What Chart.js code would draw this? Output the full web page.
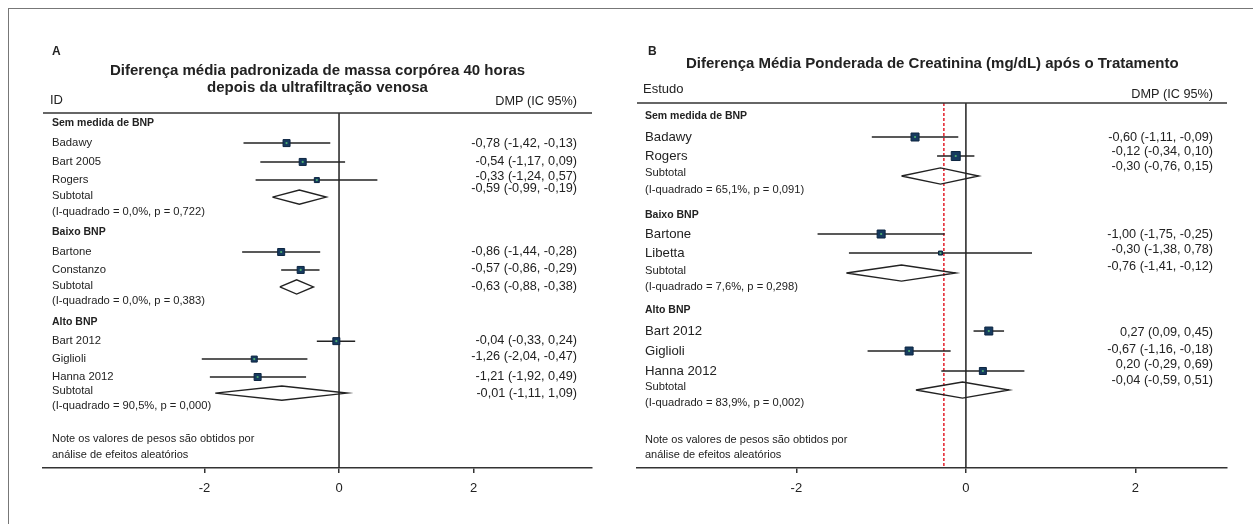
<!DOCTYPE html>
<html>
<head>
<meta charset="utf-8">
<script src="https://cdn.jsdelivr.net/npm/chart.js@4.4.0/dist/chart.umd.min.js"></script>
<style>
html, body { margin:0; padding:0; background:#fff; }
#wrap { position:relative; width:1253px; height:524px; overflow:hidden; }
#frame { position:absolute; left:8px; top:8px; width:1300px; height:600px; border-left:1.5px solid #777; border-top:1.5px solid #777; }
canvas { position:absolute; left:0; top:0; }
</style>
</head>
<body>
<div id="wrap">
  <div id="frame"></div>
  <canvas id="chartA" width="1253" height="524"></canvas>
  <canvas id="chartB" width="1253" height="524"></canvas>
</div>
<script>
var FONT = "'Liberation Sans', Arial, sans-serif";

var tickValues = [-2, 0, 2];
var tickLabels = ['-2', '0', '2'];
var groups = ['Sem medida de BNP', 'Baixo BNP', 'Alto BNP'];
var notes = ['Note os valores de pesos são obtidos por', 'análise de efeitos aleatórios'];

// ---- Painel A: massa corporea ----
var studiesA = ['Badawy', 'Bart 2005', 'Rogers', 'Bartone', 'Constanzo', 'Bart 2012', 'Giglioli', 'Hanna 2012'];
var estA = [-0.78, -0.54, -0.33, -0.86, -0.57, -0.04, -1.26, -1.21];
var loA  = [-1.42, -1.17, -1.24, -1.44, -0.86, -0.33, -2.04, -1.92];
var hiA  = [-0.13, 0.09, 0.57, -0.28, -0.29, 0.24, -0.47, -0.49];
var rowA = [1.61, 2.62, 3.59, 7.44, 8.40, 12.21, 13.17, 14.13];
var weightA = [7, 7, 5, 7, 7, 7, 6, 7];
var ciTextA = ['-0,78 (-1,42, -0,13)', '-0,54 (-1,17, 0,09)', '-0,33 (-1,24, 0,57)', '-0,86 (-1,44, -0,28)',
               '-0,57 (-0,86, -0,29)', '-0,04 (-0,33, 0,24)', '-1,26 (-2,04, -0,47)', '-1,21 (-1,92, 0,49)'];
var ciRowA = [1.62, 2.61, 3.41, 7.42, 8.31, 12.15, 13.05, 14.08];
var groupRowA = [0.54, 6.37, 11.19];
var subEstA = [-0.59, -0.63, -0.85];
var subLoA  = [-0.99, -0.88, -1.84];
var subHiA  = [-0.19, -0.38, 0.12];
var subRowA = [4.50, 9.31, 14.99];
var subLabelRowA = [4.44, 9.26, 14.88];
var subI2A = ['(I-quadrado = 0,0%, p = 0,722)', '(I-quadrado = 0,0%, p = 0,383)', '(I-quadrado = 90,5%, p = 0,000)'];
var subI2RowA = [5.30, 10.06, 15.69];
var subTextA = ['-0,59 (-0,99, -0,19)', '-0,63 (-0,88, -0,38)', '-0,01 (-1,11, 1,09)'];
var subTextRowA = [4.03, 9.30, 15.00];
var noteRowA = [17.45, 18.31];

// ---- Painel B: creatinina ----
var studiesB = ['Badawy', 'Rogers', 'Bartone', 'Libetta', 'Bart 2012', 'Giglioli', 'Hanna 2012'];
var estB = [-0.60, -0.12, -1.00, -0.30, 0.27, -0.67, 0.20];
var loB  = [-1.11, -0.34, -1.75, -1.38, 0.09, -1.16, -0.29];
var hiB  = [-0.09, 0.10, -0.25, 0.78, 0.45, -0.18, 0.69];
var rowB = [1.77, 2.76, 6.82, 7.81, 11.87, 12.91, 13.95];
var weightB = [8, 9, 8, 4, 8, 8, 7];
var ciTextB = ['-0,60 (-1,11, -0,09)', '-0,12 (-0,34, 0,10)', '-1,00 (-1,75, -0,25)', '-0,30 (-1,38, 0,78)',
               '0,27 (0,09, 0,45)', '-0,67 (-1,16, -0,18)', '0,20 (-0,29, 0,69)'];
var ciRowB = [1.77, 2.55, 6.87, 7.65, 11.97, 12.81, 13.59];
var groupRowB = [0.68, 5.83, 10.78];
var subEstB = [-0.30, -0.76, -0.04];
var subLoB  = [-0.76, -1.41, -0.59];
var subHiB  = [0.15, -0.12, 0.51];
var subRowB = [3.80, 8.85, 14.94];
var subLabelRowB = [3.64, 8.75, 14.78];
var subI2B = ['(I-quadrado = 65,1%, p = 0,091)', '(I-quadrado = 7,6%, p = 0,298)', '(I-quadrado = 83,9%, p = 0,002)'];
var subI2RowB = [4.53, 9.58, 15.62];
var subTextB = ['-0,30 (-0,76, 0,15)', '-0,76 (-1,41, -0,12)', '-0,04 (-0,59, 0,51)'];
var subTextRowB = [3.33, 8.49, 14.42];
var overallB = -0.26;
var noteRowB = [17.54, 18.32];


function drawTexts(chart, p) {
	var ctx = chart.ctx, ys = chart.scales.y, area = chart.chartArea;
	ctx.save();
	ctx.fillStyle = '#222';
	ctx.textBaseline = 'middle';
	function txt(s, x, y, font, align) {
		ctx.font = font;
		ctx.textAlign = align || 'left';
		ctx.fillText(s, x, y);
	}
	function py(v) { return ys.getPixelForValue(v); }

	// linha do cabecalho
	ctx.strokeStyle = '#333';
	ctx.lineWidth = 1.5;
	ctx.beginPath();
	ctx.moveTo(area.left, area.top);
	ctx.lineTo(area.right, area.top);
	ctx.stroke();

	txt(p.letter, p.letterX, p.letterY, 'bold 12px ' + FONT);
	for (var t = 0; t < p.title.length; t++) {
		txt(p.title[t], p.titleX[t], p.titleY[t], 'bold 15px ' + FONT);
	}
	txt(p.idLabel, p.labelX - 2, p.idY, '13px ' + FONT);
	txt('DMP (IC 95%)', p.valueX, p.dmpY, '12.7px ' + FONT, 'right');

	for (var g = 0; g < groups.length; g++) {
		txt(groups[g], p.labelX, py(p.groupRow[g]), 'bold 10.5px ' + FONT);
		txt('Subtotal', p.labelX, py(p.subLabelRow[g]), '11.2px ' + FONT);
		txt(p.subI2[g], p.labelX, py(p.subI2Row[g]), '11.2px ' + FONT);
		txt(p.subText[g], p.valueX, py(p.subTextRow[g]), '12.7px ' + FONT, 'right');
	}
	for (var k = 0; k < p.studies.length; k++) {
		txt(p.studies[k], p.labelX, py(p.row[k]), p.labelFont + 'px ' + FONT);
		txt(p.ciText[k], p.valueX, py(p.ciRow[k]), '12.7px ' + FONT, 'right');
	}
	for (var n = 0; n < notes.length; n++) {
		txt(notes[n], p.labelX, py(p.noteRow[n]), '11px ' + FONT);
	}
	ctx.restore();
}

function makePanel(id, p) {
	var pts = [];
	for (var k = 0; k < p.est.length; k++) pts.push({ x: p.est[k], y: p.row[k] });

	var ds = [];
	// ponto verde no centro do quadrado
	ds.push({ data: pts, pointStyle: 'circle', pointRadius: 1.1, backgroundColor: '#4fb06f', borderWidth: 0, order: 0 });
	// quadrado do peso
	ds.push({ data: pts, pointStyle: 'rect', pointRadius: p.weight.map(function(s){ return s / Math.SQRT2; }),
		backgroundColor: '#163a5f', borderColor: '#0d2540', borderWidth: 1, order: 1 });
	// intervalos de confianca
	for (var i = 0; i < p.est.length; i++) {
		ds.push({ data: [{ x: p.lo[i], y: p.row[i] }, { x: p.hi[i], y: p.row[i] }],
			showLine: true, pointRadius: 0, borderColor: '#222', borderWidth: 1.5, order: 3 });
	}
	// diamantes dos subtotais
	for (var j = 0; j < p.subEst.length; j++) {
		var r = p.subRow[j], h = p.diamondH;
		ds.push({ data: [{ x: p.subLo[j], y: r }, { x: p.subEst[j], y: r - h }, { x: p.subHi[j], y: r },
			{ x: p.subEst[j], y: r + h }, { x: p.subLo[j], y: r }],
			showLine: true, pointRadius: 0, borderColor: '#222', borderWidth: 1.4, fill: false,
			borderJoinStyle: 'miter', tension: 0, order: 3 });
	}
	// linha do zero
	ds.push({ data: [{ x: 0, y: 0 }, { x: 0, y: p.rows }], showLine: true, pointRadius: 0,
		borderColor: '#222', borderWidth: 1.5, order: 4 });
	if (p.overall != null) {
		ds.push({ data: [{ x: p.overall, y: 0 }, { x: p.overall, y: p.rows }], showLine: true, pointRadius: 0,
			borderColor: '#e3202b', borderWidth: 1.5, borderDash: [3, 2], order: 4 });
	}

	new Chart(document.getElementById(id), {
		type: 'scatter',
		data: { datasets: ds },
		options: {
			responsive: false,
			animation: false,
			events: [],
			layout: { padding: p.padding },
			plugins: { legend: { display: false }, tooltip: { enabled: false } },
			scales: {
				x: {
					type: 'linear', min: p.xmin, max: p.xmax,
					afterBuildTicks: function(s) { s.ticks = tickValues.map(function(v){ return { value: v }; }); },
					afterFit: function(s) { s.height = 30; },
					ticks: { font: { family: FONT, size: 13 }, color: '#222', padding: 8,
						callback: function(v) { return tickLabels[tickValues.indexOf(v)]; } },
					grid: { drawOnChartArea: false, drawTicks: true, tickLength: 5, color: '#333', lineWidth: 1.5 },
					border: { display: true, color: '#333', width: 1.5 }
				},
				y: { type: 'linear', min: 0, max: p.rows, reverse: true, display: false }
			}
		},
		plugins: [{ id: 'forestText', afterDraw: function(chart) { drawTexts(chart, p); } }]
	});
}

makePanel('chartA', {
	studies: studiesA, est: estA, lo: loA, hi: hiA, row: rowA, weight: weightA,
	ciText: ciTextA, ciRow: ciRowA, groupRow: groupRowA,
	subEst: subEstA, subLo: subLoA, subHi: subHiA, subRow: subRowA, subLabelRow: subLabelRowA,
	subI2: subI2A, subI2Row: subI2RowA, subText: subTextA, subTextRow: subTextRowA, noteRow: noteRowA,
	overall: null, rows: 19, diamondH: 0.38,
	xmin: -4.40, xmax: 3.76,
	padding: { left: 43, right: 661, top: 113, bottom: 26 },
	letter: 'A', letterX: 52, letterY: 52,
	title: ['Diferença média padronizada de massa corpórea 40 horas', 'depois da ultrafiltração venosa'],
	titleX: [110, 207], titleY: [71, 88],
	idLabel: 'ID', idY: 100, dmpY: 101,
	labelX: 52, valueX: 577, labelFont: 11.3
});

makePanel('chartB', {
	studies: studiesB, est: estB, lo: loB, hi: hiB, row: rowB, weight: weightB,
	ciText: ciTextB, ciRow: ciRowB, groupRow: groupRowB,
	subEst: subEstB, subLo: subLoB, subHi: subHiB, subRow: subRowB, subLabelRow: subLabelRowB,
	subI2: subI2B, subI2Row: subI2RowB, subText: subTextB, subTextRow: subTextRowB, noteRow: noteRowB,
	overall: overallB, rows: 19, diamondH: 0.42,
	xmin: -3.88, xmax: 3.08,
	padding: { left: 637, right: 26, top: 103, bottom: 26 },
	letter: 'B', letterX: 648, letterY: 52,
	title: ['Diferença Média Ponderada de Creatinina (mg/dL) após o Tratamento'],
	titleX: [686], titleY: [64],
	idLabel: 'Estudo', idY: 89, dmpY: 94,
	labelX: 645, valueX: 1213, labelFont: 13.2
});
</script>
</body>
</html>
